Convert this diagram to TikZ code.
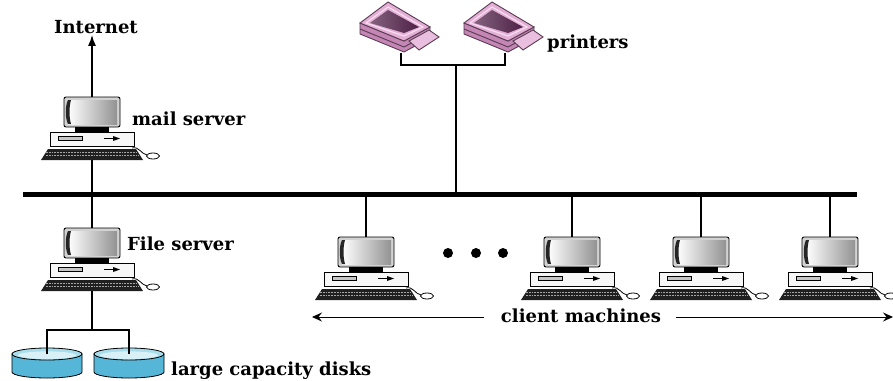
\documentclass[tikz,border=0pt]{standalone}
\usepackage{fontspec}
\setmainfont{DejaVu Serif}
\usetikzlibrary{arrows.meta}
\definecolor{prnpink}{HTML}{E4AED6}
\definecolor{prnside}{HTML}{C486B4}
\definecolor{prndark}{HTML}{4E2046}
\definecolor{diskside}{HTML}{55B6D8}
\definecolor{disktop}{HTML}{A9DDEC}

\begin{document}
\begin{tikzpicture}[
  x=1pt,y=-1pt,
  lbl/.style={font=\bfseries\fontsize{18}{20}\selectfont,inner sep=1pt},
  wire/.style={line width=1.5pt},
  bus/.style={line width=5pt},
  span/.style={-{Stealth[length=10pt,width=9pt,inset=3.5pt]},line width=1pt},
  prnline/.style={draw=prnside!45!black,line width=.9pt},
  pics/pc/.style={code={
    % monitor and screen
    \draw[fill=gray!35,line width=.9pt,rounded corners=2] (-28,0) rectangle (28,30);
    \shade[left color=white,right color=gray!85] (-24,3) rectangle (25,27);
    \fill[gray!30!black] (-24,3) .. controls (-27,9) and (-27,21) .. (-24,27) -- (-21,27) .. controls (-23,20) and (-23,10) .. (-21,3) -- cycle;
    \fill[black] (-17,30) rectangle (17,35);
    % system unit
    \draw[fill=gray!6,line width=.9pt] (-42,35) rectangle (42,49);
    \draw[fill=gray!45] (-34,39.5) rectangle (-10,43.5);
    \draw[line width=.8pt] (12,41.5) -- (25,41.5);
    \fill (21,39) -- (28,41.5) -- (21,44) -- cycle;
    % keyboard
    \fill[gray!25!black] (-44,52) -- (44,52) -- (51,63) -- (-51,63) -- cycle;
    \foreach \r in {55,58.5}
      \draw[gray!70,line width=.9pt,dash pattern=on 1.8pt off 1pt] (-46,\r) -- (47,\r);
    % mouse
    \draw[line width=.8pt] (40,51) .. controls (47,49) and (49,57) .. (55,58);
    \draw[fill=white,line width=.8pt] (61,59) ellipse (6.5 and 3);
    \coordinate (-top) at (0,0);
    \coordinate (-bot) at (0,63);
  }},
  pics/printer/.style={code={
    % body
    \path[prnline,fill=prnside] (-41,-30) -- (-41,-19) -- (3,-1) -- (29,-15) -- (29,-26) -- (3,-12) -- cycle;
    \path[prnline] (-41,-24) -- (3,-6) -- (29,-20);
    \path[prnline,fill=prnpink] (-41,-30) -- (-13,-51) -- (29,-26) -- (3,-12) -- cycle;
    % lid frame and window
    \draw[prnpink!40!white,line width=1.2pt] (-35,-30) -- (-13,-46) -- (22,-26) -- (3,-17) -- cycle;
    \shade[left color=prndark!70!white,right color=prndark] (-31,-30) -- (-13,-43) -- (18,-26) -- (3,-20) -- cycle;
    % paper tray
    \path[prnline,fill=prnpink!80!white] (8,-12) -- (28,-23) -- (38,-16) -- (18,-3) -- cycle;
    \coordinate (-jack) at (0,0);
  }},
  pics/disk/.style={code={
    \draw[fill=diskside,line width=.8pt] (-35,0) -- (-35,18) arc[start angle=180,end angle=0,x radius=35,y radius=6] -- (35,0) -- cycle;
    \draw[fill=disktop,line width=.8pt] (0,0) ellipse [x radius=35,y radius=6];
    \fill[disktop!45!white] (0,1.2) ellipse [x radius=29,y radius=3.8];
    \coordinate (-top) at (0,0);
  }},
]
\useasboundingbox[fill=white] (0,0) rectangle (893,380);

% backbone
\coordinate (busL) at (23,194);
\coordinate (busR) at (857,194);
\draw[bus] (busL) -- (busR);

% mail server and the way out
\pic (mail) at (92,97) {pc};
\node[lbl] (inet) at (96,27) {Internet};
\node[lbl,anchor=west] (mail-lbl) at (131,119) {mail server};
\draw[wire,-{Latex[length=11pt,width=8pt]}] (mail-top) -- (mail-top |- inet.south);
\draw[wire] (mail-bot) -- (mail-bot |- busL);

% file server with its disks
\pic (file) at (92,228) {pc};
\node[lbl,anchor=west] (file-lbl) at (126,244) {File server};
\draw[wire] (file-top |- busL) -- (file-top);
\coordinate (dkjoin) at (92,330);
\pic (dkA) at (47,354) {disk};
\pic (dkB) at (129,354) {disk};
\draw[wire] (file-bot) -- (dkjoin);
\draw[wire] (dkA-top) |- (dkjoin) -| (dkB-top);
\node[lbl,anchor=west] (disk-lbl) at (170,371) {large capacity disks};

% printers
\pic (prA) at (401,53) {printer};
\pic (prB) at (505,53) {printer};
\coordinate (prjoin) at (456,65);
\draw[wire] (prA-jack) |- (prjoin) -| (prB-jack);
\draw[wire] (prjoin) -- (prjoin |- busL);
\node[lbl,anchor=west] (prn-lbl) at (546,44) {printers};

% clients
\foreach \n/\x in {cA/366,cB/572,cC/701,cD/830}{
  \pic (\n) at (\x,237) {pc};
  \draw[wire] (\n-top) -- (\n-top |- busL);
}
\foreach \i/\x in {1/448,2/476,3/503}
  \node[circle,fill=black,inner sep=0pt,minimum size=10pt] (dot\i) at (\x,253) {};

\node[lbl] (cl-lbl) at (581,316) {client machines};
\coordinate (clL) at (312,317);
\coordinate (clR) at (893,317);
\draw[span] ([xshift=-16pt]cl-lbl.west |- clL) -- (clL);
\draw[span] ([xshift=14pt]cl-lbl.east |- clR) -- (clR);
\end{tikzpicture}
\end{document}
